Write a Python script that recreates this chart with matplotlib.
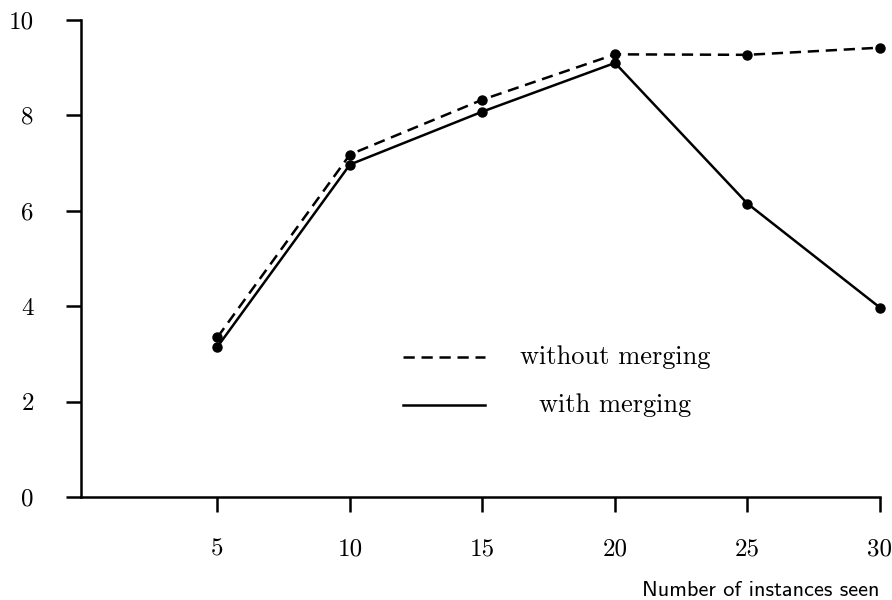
import matplotlib
matplotlib.use("Agg")
from matplotlib import pyplot as plt

# data
instances = [5, 10, 15, 20, 25, 30]
without_merging = [3.35, 7.18, 8.33, 9.28, 9.27, 9.42]
with_merging = [3.15, 6.97, 8.08, 9.10, 6.15, 3.97]
y_ticks = [0, 2, 4, 6, 8, 10]

serif = "cmr10"
sans = "cmss10"

fig = plt.figure(figsize=(8.92, 6.0), dpi=100)
ax = fig.add_axes([81 / 892, 1 - 497 / 600, (880 - 81) / 892, (497 - 20) / 600])

ax.plot(instances, without_merging, color="black", lw=1.8, dashes=(4.5, 2.7),
        marker="o", ms=6.5, clip_on=False)
ax.plot(instances, with_merging, color="black", lw=1.8,
        marker="o", ms=6.5, clip_on=False)

ax.set_xlim(-0.15, 30)
ax.set_ylim(0, 10)
ax.set_xticks(instances)
ax.set_yticks(y_ticks)
ax.set_xticklabels([str(v) for v in instances], family=serif, fontsize=18)
ax.set_yticklabels([str(v) for v in y_ticks], family=serif, fontsize=18)

for s in ["top", "right"]:
    ax.spines[s].set_visible(False)
for s in ["left", "bottom"]:
    ax.spines[s].set_linewidth(1.8)
ax.tick_params(axis="both", direction="out", length=11, width=1.8, color="black")
ax.tick_params(axis="x", pad=19)
ax.tick_params(axis="y", pad=23)

# legend drawn by hand, text centred under each other
ax.plot([0.403, 0.506], [0.293, 0.293], transform=ax.transAxes, color="black",
        lw=1.8, dashes=(4.5, 2.7))
ax.plot([0.403, 0.506], [0.193, 0.193], transform=ax.transAxes, color="black", lw=1.8)
ax.text(0.668, 0.293, "without merging", transform=ax.transAxes, ha="center",
        va="center", family=serif, fontsize=19)
ax.text(0.668, 0.193, "with merging", transform=ax.transAxes, ha="center",
        va="center", family=serif, fontsize=19)

fig.text(880 / 892, 1 - 590 / 600, "Number of instances seen", ha="right",
         va="center", family=sans, fontsize=16)

fig.savefig("out.png", dpi=100)
